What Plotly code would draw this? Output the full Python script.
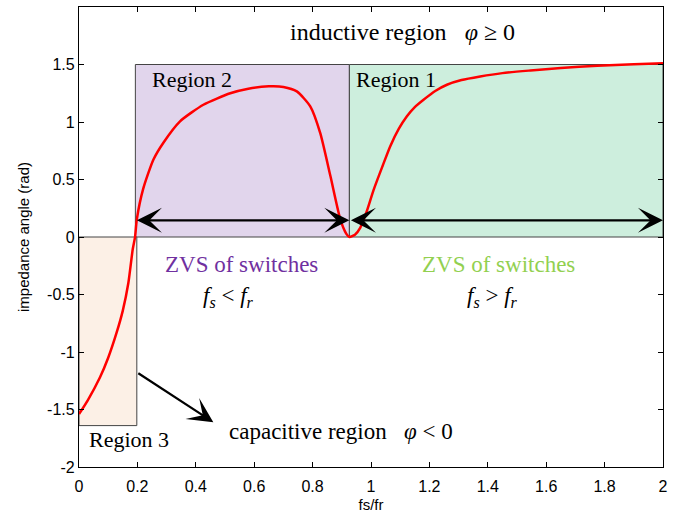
import plotly.graph_objects as go

# curve data
fs_fr = [0.0, 0.03, 0.072, 0.1, 0.129, 0.15, 0.169, 0.184, 0.192, 0.198, 0.22, 0.255, 0.289, 0.346, 0.426,
         0.518, 0.58, 0.65, 0.7, 0.746, 0.792, 0.826, 0.861, 0.895, 0.915, 0.926,
         0.945, 0.963, 0.985, 1.009, 1.04, 1.066, 1.095, 1.123, 1.15, 1.18, 1.22, 1.26, 1.31, 1.374, 1.45,
         1.546, 1.65, 1.775, 1.9, 2.0]
angle = [-1.54, -1.42, -1.22, -1.05, -0.83, -0.64, -0.40, -0.107, 0.0, 0.153, 0.42, 0.674, 0.82, 1.006, 1.15,
         1.25, 1.29, 1.31, 1.305, 1.266, 1.136, 0.905, 0.53, 0.153, 0.03, 0.0,
         0.02, 0.08, 0.22, 0.41, 0.62, 0.79, 0.94, 1.05, 1.13, 1.194, 1.27, 1.324, 1.365, 1.396, 1.425,
         1.448, 1.47, 1.489, 1.502, 1.51]

# region boxes
region_x0 = [0.193, 0.926, 0.0]
region_x1 = [0.926, 2.0, 0.198]
region_y0 = [0.0, 0.0, -1.64]
region_y1 = [1.5, 1.5, 0.0]
region_fill = ["#e1d5ec", "#cdeedd", "#fcf0e6"]

x_ticks = [0, 0.2, 0.4, 0.6, 0.8, 1, 1.2, 1.4, 1.6, 1.8, 2]
x_tick_text = ["0", "0.2", "0.4", "0.6", "0.8", "1", "1.2", "1.4", "1.6", "1.8", "2"]
y_ticks = [-2, -1.5, -1, -0.5, 0, 0.5, 1, 1.5, 2]
y_tick_text = ["-2", "-1.5", "-1", "-0.5", "0", "0.5", "1", "1.5", "2"]

fig = go.Figure()

shapes = []
for x0, x1, y0, y1, c in zip(region_x0, region_x1, region_y0, region_y1, region_fill):
    shapes.append(dict(type="rect", xref="x", yref="y", x0=x0, x1=x1, y0=y0, y1=y1,
                       fillcolor=c, line=dict(color="#444444", width=1), layer="below"))

fig.add_trace(go.Scatter(x=fs_fr, y=angle, mode="lines",
                         line=dict(color="#ff0000", width=2.5, shape="spline", smoothing=0.6),
                         showlegend=False, hoverinfo="skip"))

serif = "Liberation Serif, Times New Roman, serif"
sans = "Liberation Sans, Arial, sans-serif"
ann = []
# double-headed arrows
arrow_y = 0.145
for a0, a1 in [(0.193, 0.926), (0.926, 2.0)]:
    ann.append(dict(x=a1, y=arrow_y, ax=a0, ay=arrow_y, xref="x", yref="y", axref="x", ayref="y",
                    text="", showarrow=True, arrowhead=3, startarrowhead=3, arrowside="end+start",
                    arrowsize=1.9, startarrowsize=1.9, arrowwidth=2.2, arrowcolor="black"))
# capacitive arrow
ann.append(dict(x=0.46, y=-1.61, ax=0.198, ay=-1.176, xref="x", yref="y", axref="x", ayref="y",
                text="", showarrow=True, arrowhead=3, arrowsize=1.9, arrowwidth=2.2, arrowcolor="black"))

def txt(x, y, s, color="black", size=23):
    ann.append(dict(x=x, y=y, xref="x", yref="y", text=s, showarrow=False,
                    font=dict(family=serif, size=size, color=color)))

txt(1.107, 1.78, "inductive region &nbsp; <i>φ</i> ≥ 0", size=24)
txt(0.386, 1.37, "Region 2", size=22)
txt(1.087, 1.37, "Region 1", size=22)
txt(0.171, -1.76, "Region 3", size=22)
txt(0.555, -0.24, "ZVS of switches", color="#7030a0")
txt(0.511, -0.52, "<i>f</i><sub><i>s</i></sub> &lt; <i>f</i><sub><i>r</i></sub>")
txt(1.435, -0.24, "ZVS of switches", color="#92d050")
txt(1.416, -0.52, "<i>f</i><sub><i>s</i></sub> &gt; <i>f</i><sub><i>r</i></sub>")
txt(0.898, -1.69, "capacitive region &nbsp; <i>φ</i> &lt; 0")

axis_common = dict(showline=True, mirror="ticks", linecolor="black", linewidth=1.2,
                   ticks="inside", ticklen=5, tickcolor="black", showgrid=False, zeroline=False,
                   automargin=False,
                   tickfont=dict(family=sans, size=16, color="black"))

fig.update_layout(
    width=684, height=516,
    margin=dict(l=79, r=21, t=7, b=49),
    plot_bgcolor="white", paper_bgcolor="white",
    shapes=shapes, annotations=ann,
    xaxis=dict(range=[0, 2], tickvals=x_ticks, ticktext=x_tick_text, ticklabelstandoff=5,
               title=dict(text="fs/fr", font=dict(family=sans, size=15, color="black"), standoff=5),
               **axis_common),
    yaxis=dict(range=[-2, 2], tickvals=y_ticks, ticktext=y_tick_text,
               title=dict(text="impedance angle (rad)", font=dict(family=sans, size=15, color="black"), standoff=13),
               **axis_common),
)

fig.write_html("out.html")
